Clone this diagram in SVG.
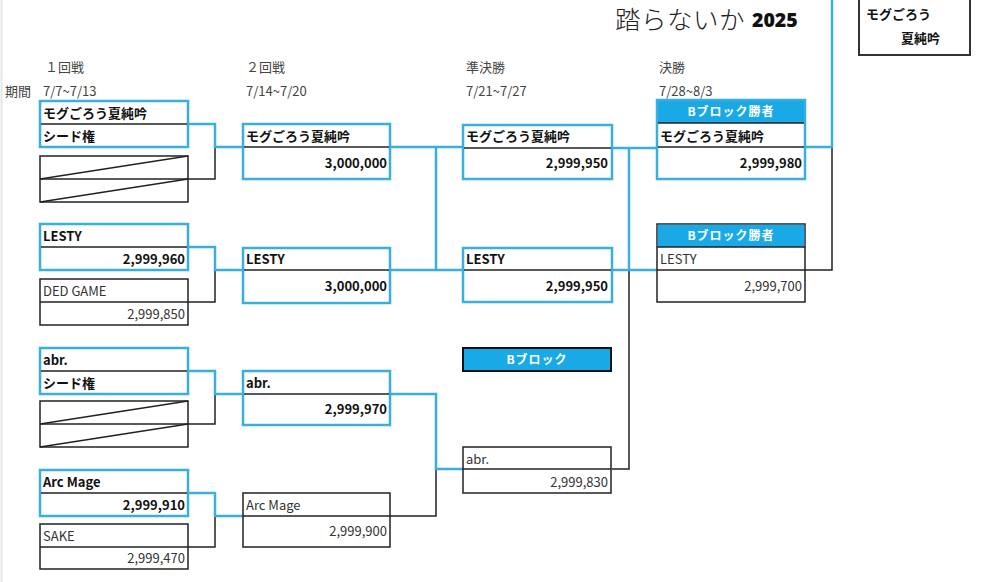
<svg xmlns="http://www.w3.org/2000/svg" width="1000" height="582" viewBox="0 0 1000 582">
<style>
text{font-family:"Noto Sans CJK JP","Noto Sans",sans-serif;}
.hd{font-size:13px;fill:#444;}
.bn{font-size:13px;font-weight:700;fill:#111;}
.nn{font-size:13px;fill:#333;}
.wh{font-size:12px;font-weight:700;fill:#fff;letter-spacing:1px;}
.bb{fill:#fff;stroke:#3aaedc;stroke-width:2.5;}
.kb{fill:#fff;stroke:#222;stroke-width:1.5;}
.dv{stroke:#222;stroke-width:1.5;}
.bl{fill:none;stroke:#3aaedc;stroke-width:2.5;}
.kl{fill:none;stroke:#222;stroke-width:1.5;}
.r{text-anchor:end;}
</style>
<rect width="1000" height="582" fill="#fff"/>
<line x1="1.5" y1="0" x2="1.5" y2="582" stroke="#e6e6e6" stroke-width="2"/>

<!-- title -->
<g id="title">
<text x="615" y="29" style="font-size:25.5px;font-weight:300;fill:#222;letter-spacing:0.5px;">踏らないか</text>
<text x="752" y="27" style="font-size:19.5px;font-weight:800;fill:#111;font-family:'Open Sans','Noto Sans',sans-serif;">2025</text>
</g>

<!-- headings -->
<g id="headings">
<text class="hd" x="45" y="72">１回戦</text>
<text class="hd" x="5" y="96">期間</text>
<text class="hd" x="43" y="96">7/7~7/13</text>
<text class="hd" x="246" y="72">２回戦</text>
<text class="hd" x="246" y="96">7/14~7/20</text>
<text class="hd" x="466" y="72">準決勝</text>
<text class="hd" x="466" y="96">7/21~7/27</text>
<text class="hd" x="659" y="72">決勝</text>
<text class="hd" x="659" y="96">7/28~8/3</text>
</g>

<!-- connectors -->
<g id="connectors">
<path class="kl" d="M215,147 V179 H188"/>
<path class="kl" d="M215,270 V302 H188"/>
<path class="kl" d="M215,394 V424 H188"/>
<path class="kl" d="M215,516 V547 H188"/>
<path class="kl" d="M390,516 H436 V469"/>
<path class="kl" d="M629,270 V469 H612"/>
<path class="kl" d="M832,147 V270 H805"/>
<path class="bl" d="M188,124 H215 V147 H243"/>
<path class="bl" d="M188,247 H215 V270 H243"/>
<path class="bl" d="M188,371 H215 V394 H243"/>
<path class="bl" d="M188,493 H215 V516 H243"/>
<path class="bl" d="M390,147 H463 M390,270 H463 M436,147 V270"/>
<path class="bl" d="M390,394 H436 V469 H463"/>
<path class="bl" d="M612,148 H657 M612,270 H657 M629,148 V270"/>
<path class="bl" d="M805,147 H832 V-2"/>
</g>

<!-- Round 1 -->
<g id="r1-a1">
<rect class="bb" x="40" y="101" width="148" height="46"/>
<line class="dv" x1="41" y1="124" x2="187" y2="124"/>
<text class="bn" x="43" y="118">モグごろう夏純吟</text>
<text class="bn" x="43" y="141">シード権</text>
</g>
<g id="r1-a2">
<rect class="kb" x="40" y="156" width="148" height="46"/>
<line class="dv" x1="40" y1="179" x2="188" y2="179"/>
<line class="dv" x1="40" y1="179" x2="188" y2="156"/>
<line class="dv" x1="40" y1="202" x2="188" y2="179"/>
</g>
<g id="r1-b1">
<rect class="bb" x="40" y="224" width="148" height="46"/>
<line class="dv" x1="41" y1="247" x2="187" y2="247"/>
<text class="bn" x="43" y="241">LESTY</text>
<text class="bn r" x="185" y="264">2,999,960</text>
</g>
<g id="r1-b2">
<rect class="kb" x="40" y="279" width="148" height="46"/>
<line class="dv" x1="40" y1="302" x2="188" y2="302"/>
<text class="nn" x="43" y="296">DED GAME</text>
<text class="nn r" x="185" y="319">2,999,850</text>
</g>
<g id="r1-c1">
<rect class="bb" x="40" y="348" width="148" height="46"/>
<line class="dv" x1="41" y1="371" x2="187" y2="371"/>
<text class="bn" x="43" y="365">abr.</text>
<text class="bn" x="43" y="388">シード権</text>
</g>
<g id="r1-c2">
<rect class="kb" x="40" y="401" width="148" height="46"/>
<line class="dv" x1="40" y1="424" x2="188" y2="424"/>
<line class="dv" x1="40" y1="424" x2="188" y2="401"/>
<line class="dv" x1="40" y1="447" x2="188" y2="424"/>
</g>
<g id="r1-d1">
<rect class="bb" x="40" y="470" width="148" height="46"/>
<line class="dv" x1="41" y1="493" x2="187" y2="493"/>
<text class="bn" x="43" y="487">Arc Mage</text>
<text class="bn r" x="185" y="510">2,999,910</text>
</g>
<g id="r1-d2">
<rect class="kb" x="40" y="524" width="148" height="45"/>
<line class="dv" x1="40" y1="547" x2="188" y2="547"/>
<text class="nn" x="43" y="541">SAKE</text>
<text class="nn r" x="185" y="563">2,999,470</text>
</g>

<!-- Round 2 -->
<g id="r2-a">
<rect class="bb" x="243" y="124" width="147" height="55"/>
<line class="dv" x1="244" y1="147" x2="389" y2="147"/>
<text class="bn" x="246" y="141">モグごろう夏純吟</text>
<text class="bn r" x="387" y="168">3,000,000</text>
</g>
<g id="r2-b">
<rect class="bb" x="243" y="248" width="147" height="55"/>
<line class="dv" x1="244" y1="270" x2="389" y2="270"/>
<text class="bn" x="246" y="264">LESTY</text>
<text class="bn r" x="387" y="291">3,000,000</text>
</g>
<g id="r2-c">
<rect class="bb" x="243" y="371" width="147" height="54"/>
<line class="dv" x1="244" y1="394" x2="389" y2="394"/>
<text class="bn" x="246" y="388">abr.</text>
<text class="bn r" x="387" y="414">2,999,970</text>
</g>
<g id="r2-d">
<rect class="kb" x="243" y="493" width="147" height="54"/>
<line class="dv" x1="243" y1="516" x2="390" y2="516"/>
<text class="nn" x="246" y="510">Arc Mage</text>
<text class="nn r" x="387" y="536">2,999,900</text>
</g>

<!-- Semifinal -->
<g id="sf-a">
<rect class="bb" x="463" y="125" width="149" height="54"/>
<line class="dv" x1="464" y1="148" x2="611" y2="148"/>
<text class="bn" x="466" y="141">モグごろう夏純吟</text>
<text class="bn r" x="608" y="168">2,999,950</text>
</g>
<g id="sf-b">
<rect class="bb" x="463" y="248" width="149" height="54"/>
<line class="dv" x1="464" y1="270" x2="611" y2="270"/>
<text class="bn" x="466" y="264">LESTY</text>
<text class="bn r" x="608" y="291">2,999,950</text>
</g>
<g id="block-label">
<rect x="463" y="348" width="148" height="23" fill="#19a9e6" stroke="#111" stroke-width="2"/>
<text class="wh" x="537" y="364" text-anchor="middle">Bブロック</text>
</g>
<g id="sf-c">
<rect class="kb" x="463" y="447" width="148" height="46"/>
<line class="dv" x1="463" y1="469" x2="611" y2="469"/>
<text class="nn" x="466" y="464">abr.</text>
<text class="nn r" x="608" y="487">2,999,830</text>
</g>

<!-- Final -->
<g id="final-a">
<rect x="657" y="100" width="148" height="23" fill="#19a9e6"/>
<text class="wh" x="731" y="116" text-anchor="middle">Bブロック勝者</text>
<rect x="657" y="100" width="148" height="79" fill="none" stroke="#3aaedc" stroke-width="2.5"/>
<line class="dv" x1="658" y1="123" x2="804" y2="123"/>
<line class="dv" x1="658" y1="147" x2="804" y2="147"/>
<text class="bn" x="660" y="141">モグごろう夏純吟</text>
<text class="bn r" x="802" y="168">2,999,980</text>
</g>
<g id="final-b">
<rect x="657" y="224" width="148" height="78" fill="#fff" stroke="#222" stroke-width="1.5"/>
<rect x="657.75" y="224.75" width="146.5" height="22.25" fill="#19a9e6"/>
<text class="wh" x="731" y="240" text-anchor="middle">Bブロック勝者</text>
<line class="dv" x1="657" y1="247" x2="805" y2="247"/>
<line class="dv" x1="657" y1="270" x2="805" y2="270"/>
<text class="nn" x="660" y="264">LESTY</text>
<text class="nn r" x="802" y="291">2,999,700</text>
</g>

<!-- Champion -->
<g id="champion">
<rect x="859" y="-2" width="111" height="57" fill="#fff" stroke="#333" stroke-width="2"/>
<text class="bn" x="866" y="19">モグごろう</text>
<text class="bn" x="901" y="43">夏純吟</text>
</g>
</svg>
